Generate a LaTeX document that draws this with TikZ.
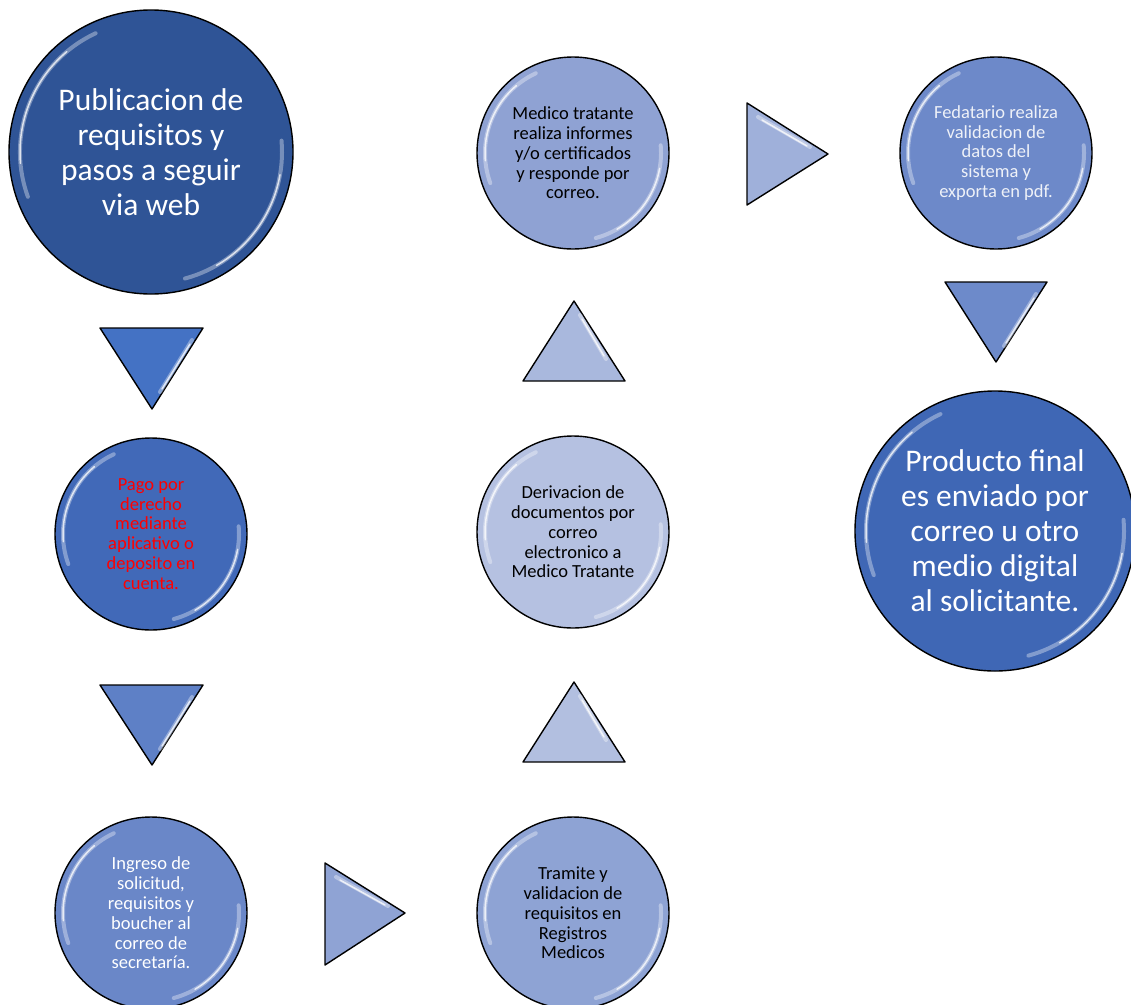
\documentclass[tikz,border=0pt]{standalone}
\usepackage{fontspec}
\setmainfont{Carlito}
\usetikzlibrary{calc}
\definecolor{cA}{HTML}{2F5496}
\definecolor{cB}{HTML}{4169B8}
\definecolor{cC}{HTML}{6A87C8}
\definecolor{cD}{HTML}{8EA3D4}
\definecolor{cE}{HTML}{B5C1E1}
\definecolor{cF}{HTML}{8FA2D3}
\definecolor{cG}{HTML}{6D89C9}
\definecolor{cH}{HTML}{3F67B5}
\definecolor{tA}{HTML}{4472C4}
\definecolor{tB}{HTML}{5E80C6}
\definecolor{tC}{HTML}{8FA3D4}
\definecolor{tD}{HTML}{B2BFE0}
\definecolor{tE}{HTML}{A9B8DD}
\definecolor{tF}{HTML}{9FB0DA}
\definecolor{tG}{HTML}{6D8ACA}
\definecolor{paleW}{HTML}{EEF1F8}
\tikzset{
  bub/.style={circle, draw=black, line width=1.4pt, inner sep=0pt, align=center},
  bigtxt/.style={font=\fontsize{31.5}{35}\selectfont},
  smalltxt/.style={font=\fontsize{18.5}{19.8}\selectfont},
  tri/.style={draw=black, line width=1.4pt, line join=round},
  glossline/.style={white, line width=4pt, opacity=0.35, line cap=round},
  glossthin/.style={white, line width=1.5pt, opacity=0.75, line cap=round},
}
\newcommand\glossarcs[2]{%
  \draw[glossline] ($(#1.center)+(115:#2)$) arc[start angle=115, end angle=200, radius=#2];
  \draw[glossthin] ($(#1.center)+(130:#2)$) arc[start angle=130, end angle=185, radius=#2];
  \draw[glossline] ($(#1.center)+(-75:#2)$) arc[start angle=-75, end angle=5, radius=#2];
  \draw[glossthin] ($(#1.center)+(-60:#2)$) arc[start angle=-60, end angle=-10, radius=#2];
}
\begin{document}
\begin{tikzpicture}[x=1pt, y=-1pt]
\useasboundingbox (0,0) rectangle (1131,1004);
\begin{scope}
\clip (0,0) rectangle (1131,1004);
% circles
\node[bub, bigtxt, fill=cA, text=white, minimum size=284pt] (c1) at (151,152)
  {Publicacion de\\requisitos y\\pasos a seguir\\via web};
\node[bub, smalltxt, fill=cB, text=red, minimum size=192pt] (c2) at (151,534)
  {Pago por\\derecho\\mediante\\aplicativo o\\deposito en\\cuenta.};
\node[bub, smalltxt, fill=cC, text=white, minimum size=192pt] (c3) at (151,913)
  {Ingreso de\\solicitud,\\requisitos y\\boucher al\\correo de\\secretaría.};
\node[bub, smalltxt, fill=cD, text=black, minimum size=192pt] (c4) at (573,913)
  {Tramite y\\validacion de\\requisitos en\\Registros\\Medicos};
\node[bub, smalltxt, fill=cE, text=black, minimum size=192pt] (c5) at (573,532)
  {Derivacion de\\documentos por\\correo\\electronico a\\Medico Tratante};
\node[bub, smalltxt, fill=cF, text=black, minimum size=192pt] (c6) at (573,153)
  {Medico tratante\\realiza informes\\y/o certificados\\y responde por\\correo.};
\node[bub, smalltxt, fill=cG, text=paleW, minimum size=192pt] (c7) at (996,153)
  {Fedatario realiza\\validacion de\\datos del\\sistema y\\exporta en pdf.};
\node[bub, bigtxt, fill=cH, text=white, minimum size=280pt] (c8) at (995,531)
  {Producto final\\es enviado por\\correo u otro\\medio digital\\al solicitante.};
\glossarcs{c1}{131pt}
\glossarcs{c2}{88pt}
\glossarcs{c3}{88pt}
\glossarcs{c4}{88pt}
\glossarcs{c5}{88pt}
\glossarcs{c6}{88pt}
\glossarcs{c7}{88pt}
\glossarcs{c8}{129pt}
\end{scope}
% triangles (arrows)
% down 1
\coordinate (d1a) at (100,328); \coordinate (d1b) at (203,328); \coordinate (d1c) at (152,409);
\draw[tri, fill=tA] (d1a) -- (d1b) -- (d1c) -- cycle;
\draw[glossline] (192,340) -- (160,392);
\draw[glossthin] (190,344) -- (162,389);
% down 2
\coordinate (d2a) at (100,685); \coordinate (d2b) at (203,685); \coordinate (d2c) at (152,765);
\draw[tri, fill=tB] (d2a) -- (d2b) -- (d2c) -- cycle;
\draw[glossline] (192,697) -- (160,749);
\draw[glossthin] (190,701) -- (162,746);
% right bottom
\coordinate (r1a) at (325,863); \coordinate (r1b) at (325,965); \coordinate (r1c) at (405,913);
\draw[tri, fill=tC] (r1a) -- (r1c) -- (r1b) -- cycle;
\draw[glossline] (336,877) -- (388,906);
\draw[glossthin] (340,880) -- (385,905);
% up lower
\coordinate (u1a) at (523,762); \coordinate (u1b) at (625,762); \coordinate (u1c) at (574,682);
\draw[tri, fill=tD] (u1a) -- (u1c) -- (u1b) -- cycle;
\draw[glossline] (580,696) -- (606,740);
\draw[glossthin] (582,700) -- (604,737);
% up upper
\coordinate (u2a) at (523,381); \coordinate (u2b) at (625,381); \coordinate (u2c) at (574,301);
\draw[tri, fill=tE] (u2a) -- (u2c) -- (u2b) -- cycle;
\draw[glossline] (580,315) -- (606,359);
\draw[glossthin] (582,319) -- (604,356);
% right top
\coordinate (r2a) at (747,103); \coordinate (r2b) at (747,205); \coordinate (r2c) at (828,154);
\draw[tri, fill=tF] (r2a) -- (r2c) -- (r2b) -- cycle;
\draw[glossline] (758,117) -- (810,147);
\draw[glossthin] (762,120) -- (807,146);
% down right
\coordinate (d3a) at (945,282); \coordinate (d3b) at (1047,282); \coordinate (d3c) at (996,362);
\draw[tri, fill=tG] (d3a) -- (d3b) -- (d3c) -- cycle;
\draw[glossline] (1036,294) -- (1004,346);
\draw[glossthin] (1034,298) -- (1006,343);
\end{tikzpicture}
\end{document}
